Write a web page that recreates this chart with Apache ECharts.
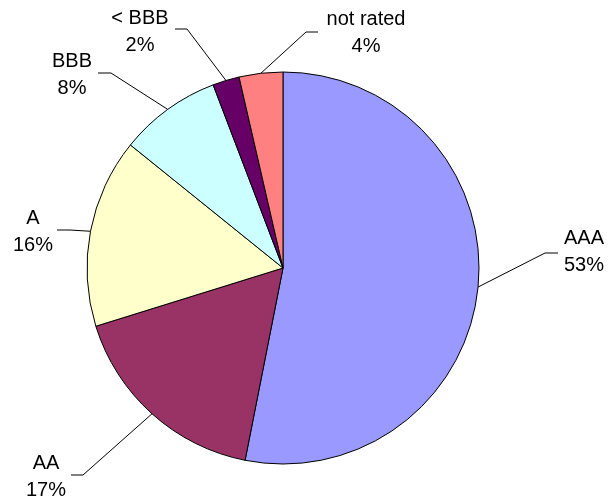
<!DOCTYPE html>
<html>
<head>
<meta charset="utf-8">
<script src="https://cdn.jsdelivr.net/npm/echarts@6/dist/echarts.min.js"></script>
<style>
  html, body { margin: 0; padding: 0; background: #fff; }
  #chart { width: 613px; height: 500px; }
</style>
</head>
<body>
<div id="chart"></div>
<script>
// ---- data ----
var categories = ['AAA', 'AA', 'A', 'BBB', '< BBB', 'not rated'];
var shares = [53.1, 17.1, 15.6, 8.4, 2.2, 3.6];

// ---- styling (separate from data) ----
var sliceColors = ['#9999FF', '#993366', '#FFFFCC', '#CCFFFF', '#660066', '#FF8080'];
// label text centre, leader end point and elbow x (Excel-like placement)
var labelSpots = [
  { x: 584, y: 252, ex: 558, ey: 253, bx: 545 },
  { x: 46,  y: 477, ex: 71,  ey: 475, bx: 83 },
  { x: 33,  y: 232, ex: 57,  ey: 230, bx: 70 },
  { x: 72,  y: 75,  ex: 98,  ey: 73,  bx: 111 },
  { x: 140, y: 32,  ex: 175, ey: 29,  bx: 187 },
  { x: 366, y: 33,  ex: 318, ey: 32,  bx: 306 }
];

var seriesData = categories.map(function (c, i) {
  return { name: c, value: shares[i], itemStyle: { color: sliceColors[i] } };
});

var chart = echarts.init(document.getElementById('chart'), null, { renderer: 'canvas' });
chart.setOption({
  animation: false,
  backgroundColor: '#ffffff',
  series: [{
    type: 'pie',
    center: [283, 268],
    radius: 196,
    startAngle: 90,
    clockwise: true,
    percentPrecision: 0,
    data: seriesData,
    itemStyle: { borderColor: '#000000', borderWidth: 1 },
    emphasis: { disabled: true },
    label: {
      show: true,
      position: 'outside',
      formatter: '{b}\n{d}%',
      color: '#000000',
      fontFamily: 'Liberation Sans, Arial, sans-serif',
      fontSize: 20,
      lineHeight: 27,
      align: 'center'
    },
    labelLine: {
      show: true,
      length: 20,
      length2: 12,
      lineStyle: { color: '#000000', width: 1 }
    },
    labelLayout: function (params) {
      var s = labelSpots[params.dataIndex];
      var start = params.labelLinePoints ? params.labelLinePoints[0] : [s.bx, s.ey];
      return {
        x: s.x,
        y: s.y,
        align: 'center',
        verticalAlign: 'middle',
        labelLinePoints: [start, [s.bx, s.ey], [s.ex, s.ey]]
      };
    }
  }]
});
</script>
</body>
</html>
